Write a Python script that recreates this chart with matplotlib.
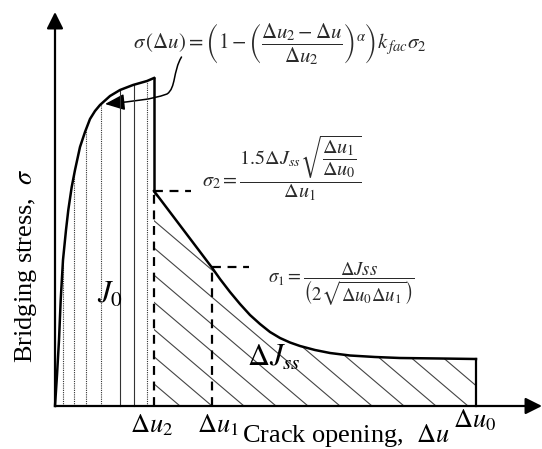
import numpy as np
import matplotlib
matplotlib.use("Agg")
import matplotlib.pyplot as plt
from matplotlib.path import Path
from matplotlib.patches import Polygon, FancyArrowPatch

plt.rcParams['font.family'] = ['Liberation Serif', 'DejaVu Serif']
plt.rcParams['mathtext.fontset'] = 'stix'

# characteristic crack openings and stresses (schematic units)
du0, du1, du2 = 421, 156.5, 99
sig_peak, sig2, sig1, sig_end = 328, 215, 139, 47

# pre-peak branch sigma(du), 0 -> du2
rise_u = [0, 2, 4, 5.7, 8, 11, 13.3, 16.7, 20, 25, 30, 35, 40, 45, 55, 65, 78, 92, 99]
rise_s = [0, 31, 66, 106, 146, 176, 196, 219, 236, 259, 274, 287, 295, 301, 310, 316, 321, 325, 328]

# softening branch, du2 -> du0
soft_u = [99, 156.5, 165, 175, 185, 195, 205, 215, 225, 235, 245, 260, 275, 295,
          320, 345, 385, 421]
soft_s = [215, 139, 127, 114, 102, 91, 82, 74, 68, 63.5, 60, 56, 53, 50.5,
          49, 48, 47.5, 47]

# vertical hatch lines under J0 (True = dotted)
j0_lines = [7.7, 19.3, 30.7, 45.7, 65, 79, 91.7]
j0_dotted = [True, True, True, True, False, False, True]

fig = plt.figure(figsize=(5.42, 4.49), dpi=100)
ax = fig.add_axes([0, 0, 1, 1])
ax.set_xlim(-55, 487)
ax.set_ylim(-43, 406)
ax.axis('off')

# axes with arrow heads
arrow_kw = dict(arrowstyle='-|>', mutation_scale=25, lw=1.6, color='k',
                shrinkA=0, shrinkB=0)
ax.annotate('', xy=(0, 394), xytext=(0, 0), arrowprops=arrow_kw)
ax.annotate('', xy=(487, 0), xytext=(0, 0), arrowprops=arrow_kw)

# J0 area: vertical hatching
for u, dotted in zip(j0_lines, j0_dotted):
    top = np.interp(u, rise_u, rise_s)
    ls = (0, (1, 1)) if dotted else '-'
    ax.plot([u, u], [0, top], color='#333333', lw=0.8, ls=ls)

# delta J_ss area: diagonal hatching clipped to the softening region
region = Polygon([(du2, 0)] + list(zip(soft_u, soft_s)) + [(du0, 0)],
                 closed=True, fill=False, edgecolor='none')
ax.add_patch(region)
slope = 0.85
for x0 in np.arange(125, 650, 32):
    ln, = ax.plot([x0 - 400, x0], [400 * slope, 0], color='#444444', lw=0.8)
    ln.set_clip_path(region)

# outline of the bridging law
ax.plot(rise_u, rise_s, color='k', lw=1.8, solid_joinstyle='round')
ax.plot([du2, du2], [sig2, sig_peak], color='k', lw=1.8)
ax.plot(soft_u, soft_s, color='k', lw=1.8, solid_joinstyle='round')
ax.plot([du0, du0], [0, sig_end], color='k', lw=1.6)

# dashed guides at sigma2 and sigma1
dash_kw = dict(color='k', lw=1.6, dashes=(4, 3))
ax.plot([du2, du2], [0, sig2], **dash_kw)
ax.plot([du2, du2 + 37], [sig2, sig2], **dash_kw)
ax.plot([du1, du1], [0, sig1], **dash_kw)
ax.plot([du1, du1 + 37], [sig1, sig1], **dash_kw)

# curved pointer from the equation to the pre-peak curve
verts = [(126.5, 349), (118, 335), (121, 318), (112, 312),
         (95, 306), (80, 305), (50, 302)]
codes = [Path.MOVETO] + [Path.CURVE4] * 6
ax.add_patch(FancyArrowPatch(path=Path(verts, codes),
                             arrowstyle='-|>,head_length=0.6,head_width=0.25',
                             mutation_scale=20, lw=1.1, color='k'))

# equations
eq_col = '#2a2a2a'
ax.text(78, 362,
        r'$\sigma\,\left(\Delta u\right) = \left(1-\left(\dfrac{\Delta u_2-\Delta u}'
        r'{\Delta u_2}\right)^{\alpha}\right)k_{\,fac}\sigma_2$',
        fontsize=15, color=eq_col, ha='left', va='center')
ax.text(147, 237.5,
        r'$\sigma_2 = \dfrac{1.5\Delta J_{ss}\sqrt{\dfrac{\Delta u_1}{\Delta u_0}}}{\Delta u_1}$',
        fontsize=14.5, color=eq_col, ha='left', va='center')
ax.text(213, 121.5,
        r'$\sigma_1 = \dfrac{\Delta Jss}{\left(2\sqrt{\Delta u_0\Delta u_1}\right)}$',
        fontsize=13.5, color=eq_col, ha='left', va='center')

# area labels
ax.text(42, 103, r'$J_0$', fontsize=22, ha='left', va='baseline')
ax.text(192, 40, r'$\Delta J_{ss}$', fontsize=22, ha='left', va='baseline')

# opening labels
ax.text(74.6, -26, r'$\Delta u_2$', fontsize=19, ha='left', va='baseline')
ax.text(142, -26, r'$\Delta u_1$', fontsize=19, ha='left', va='baseline')
ax.text(398, -21, r'$\Delta u_0$', fontsize=19, ha='left', va='baseline')

# axis titles
ax.text(187, -36, r'Crack opening,  $\Delta u$', fontsize=19, ha='left', va='baseline')
ax.text(-29, 140, r'Bridging stress,  $\sigma$', fontsize=19, rotation=90,
        ha='center', va='center')

fig.savefig('out.png', dpi=100)
